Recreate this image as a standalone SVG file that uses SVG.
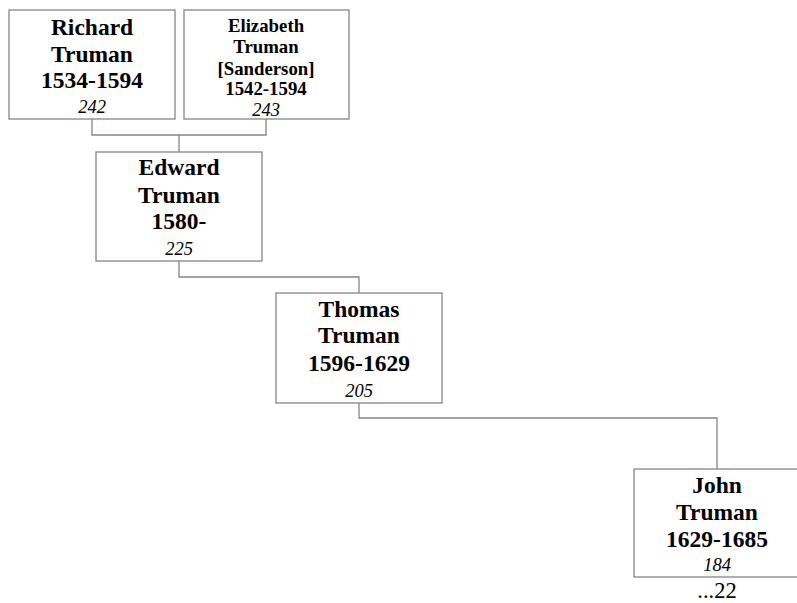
<svg xmlns="http://www.w3.org/2000/svg" width="797" height="603" viewBox="0 0 797 603">
<style>
.box{fill:#fff;stroke:#858585;stroke-width:1.3}
.con{fill:none;stroke:#858585;stroke-width:1.3}
text{font-family:"Liberation Serif","Times New Roman",serif;text-anchor:middle;fill:#000}
.n{font-weight:bold;font-size:23.5px}
.s{font-weight:bold;font-size:18.8px}
.i{font-style:italic;font-size:18.5px}
.e{font-size:22.5px}
</style>
<rect width="797" height="603" fill="#fff"/>
<g id="connectors">
<path class="con" d="M92 119V135H266V119M179 135V152"/>
<path class="con" d="M179 261V277H359V293"/>
<path class="con" d="M359 403V418H717V469"/>
</g>
<g id="richard">
<rect class="box" x="9" y="10" width="166" height="109"/>
<text class="n" x="92" y="35">Richard</text>
<text class="n" x="92" y="62">Truman</text>
<text class="n" x="92" y="88">1534-1594</text>
<text class="i" x="92" y="113">242</text>
</g>
<g id="elizabeth">
<rect class="box" x="184" y="10" width="165" height="109"/>
<text class="s" x="266" y="32">Elizabeth</text>
<text class="s" x="266" y="53">Truman</text>
<text class="s" x="266" y="75">[Sanderson]</text>
<text class="s" x="266" y="95">1542-1594</text>
<text class="i" x="266" y="116">243</text>
</g>
<g id="edward">
<rect class="box" x="96" y="152" width="166" height="109"/>
<text class="n" x="179" y="175">Edward</text>
<text class="n" x="179" y="203">Truman</text>
<text class="n" x="179" y="229">1580-</text>
<text class="i" x="179" y="255">225</text>
</g>
<g id="thomas">
<rect class="box" x="276" y="293" width="166" height="110"/>
<text class="n" x="359" y="317">Thomas</text>
<text class="n" x="359" y="343">Truman</text>
<text class="n" x="359" y="371">1596-1629</text>
<text class="i" x="359" y="397">205</text>
</g>
<g id="john">
<rect class="box" x="634" y="469" width="166" height="108"/>
<text class="n" x="717" y="493">John</text>
<text class="n" x="717" y="520">Truman</text>
<text class="n" x="717" y="547">1629-1685</text>
<text class="i" x="717" y="571">184</text>
<text class="e" x="717" y="598">...22</text>
</g>
</svg>
